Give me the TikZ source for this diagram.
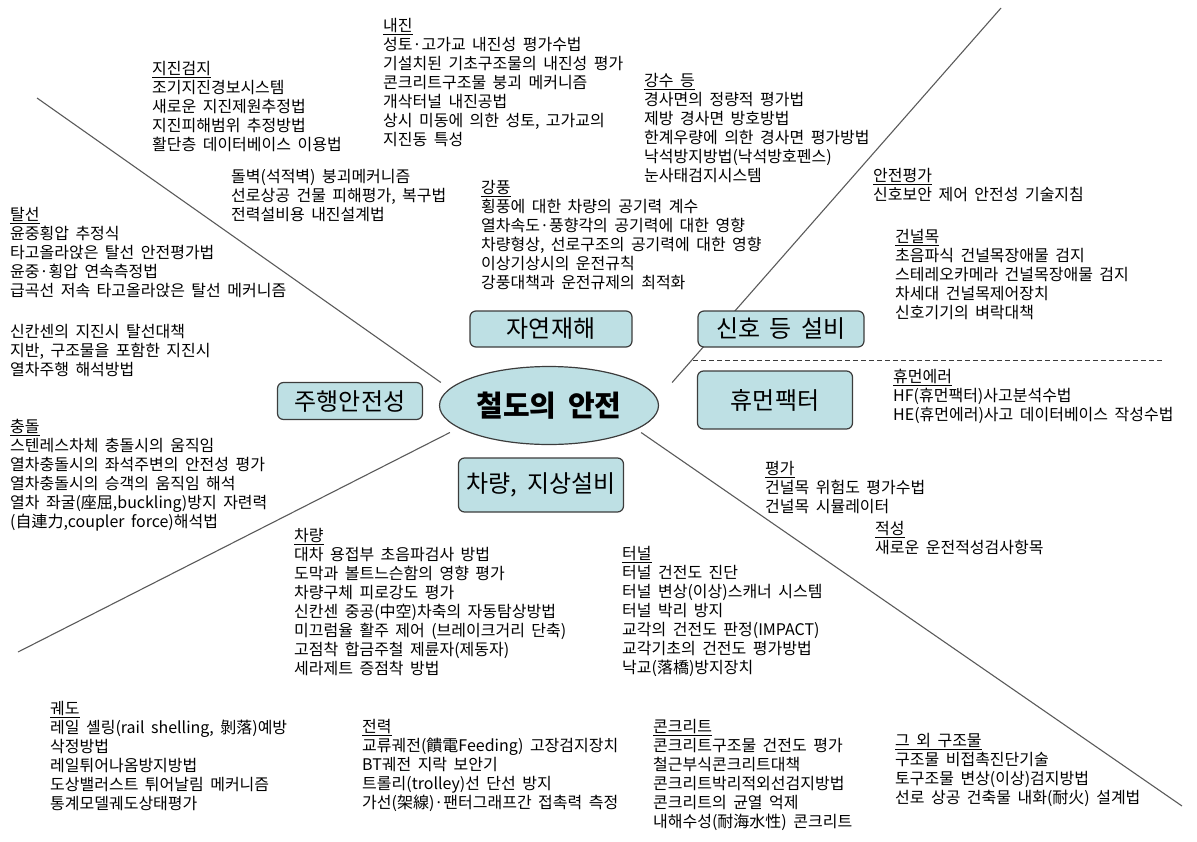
\documentclass[tikz,border=0pt]{standalone}
\usepackage{fontspec}
\setmainfont{Noto Sans CJK KR}[WordSpace=1.8]
\usetikzlibrary{shapes.geometric,backgrounds}
\definecolor{boxfill}{RGB}{190,224,228}
\definecolor{boxdraw}{RGB}{60,60,60}
\definecolor{linegray}{RGB}{90,90,90}
\begin{document}
\begin{tikzpicture}[x=1pt,y=-1pt,
  txt/.style={anchor=north west, inner sep=0pt, align=left,
    font=\fontsize{16}{19}\selectfont, execute at begin node=\strut},
  cat/.style={draw=boxdraw, line width=1.2pt, fill=boxfill, rounded corners=6pt,
    inner sep=0pt, font=\fontsize{24}{28}\selectfont},
  hub/.style={ellipse, draw=boxdraw, line width=1.2pt, fill=boxfill, inner sep=0pt,
    font=\fontsize{29}{32}\selectfont\bfseries},
  spoke/.style={draw=linegray, line width=1.1pt},
  sep/.style={draw=boxdraw, line width=1pt, dash pattern=on 5pt off 3pt},
]
\useasboundingbox (0,0) rectangle (1197,841);

% central hub and categories
\node[hub, minimum width=219pt, minimum height=78pt] (e) at (549,405.5) {철도의 안전};
\node[cat, minimum width=162pt, minimum height=36pt] (nat) at (551,329) {자연재해};
\node[cat, minimum width=166pt, minimum height=36pt] (sig) at (781,329) {신호 등 설비};
\node[cat, minimum width=145pt, minimum height=37pt] (run) at (350,401) {주행안전성};
\node[cat, minimum width=155pt, minimum height=58pt] (hum) at (775,400) {휴먼팩터};
\node[cat, minimum width=165pt, minimum height=54pt] (veh) at (541,485) {차량, 지상설비};

% free ends
\coordinate (c1) at (37,98);
\coordinate (c2) at (1001,8);
\coordinate (c3) at (18,652);
\coordinate (c4) at (1182,806);
\coordinate (d1) at (693,360);
\coordinate (d2) at (1163,360);

\begin{scope}[on background layer]
\draw[spoke] (c1) -- ([shift={(2,-23)}]e.west);
\draw[spoke] (c2) -- ([shift={(13,-23)}]e.east);
\draw[spoke] (c3) -- ([shift={(11,27)}]e.west);
\draw[spoke] (c4) -- ([shift={(-18,27)}]e.east);
\end{scope}
\draw[sep] (d1) -- (d2);

% text blocks
\node[txt] (zj) at (152,61) {\underline{지진검지}\\조기지진경보시스템\\새로운 지진제원추정법\\지진피해범위 추정방법\\활단층 데이터베이스 이용법};
\node[txt] (nj) at (383,18) {\underline{내진}\\성토·고가교 내진성 평가수법\\기설치된 기초구조물의 내진성 평가\\콘크리트구조물 붕괴 메커니즘\\개삭터널 내진공법\\상시 미동에 의한 성토, 고가교의\\지진동 특성};
\node[txt] (db) at (231,169) {돌벽(석적벽) 붕괴메커니즘\\선로상공 건물 피해평가, 복구법\\전력설비용 내진설계법};
\node[txt] (gs) at (644,73) {\underline{강수 등}\\경사면의 정량적 평가법\\제방 경사면 방호방법\\한계우량에 의한 경사면 평가방법\\낙석방지방법(낙석방호펜스)\\눈사태검지시스템};
\node[txt] (gp) at (481,180) {\underline{강풍}\\횡풍에 대한 차량의 공기력 계수\\열차속도·풍향각의 공기력에 대한 영향\\차량형상, 선로구조의 공기력에 대한 영향\\이상기상시의 운전규칙\\강풍대책과 운전규제의 최적화};
\node[txt] (ts) at (10,207) {\underline{탈선}\\윤중횡압 추정식\\타고올라앉은 탈선 안전평가법\\윤중·횡압 연속측정법\\급곡선 저속 타고올라앉은 탈선 메커니즘};
\node[txt] (ts2) at (10,324) {신칸센의 지진시 탈선대책\\지반, 구조물을 포함한 지진시\\열차주행 해석방법};
\node[txt] (cd) at (10,419) {\underline{충돌}\\스텐레스차체 충돌시의 움직임\\열차충돌시의 좌석주변의 안전성 평가\\열차충돌시의 승객의 움직임 해석\\열차 좌굴(座屈,buckling)방지 자련력\\(自連力,coupler force)해석법};
\node[txt] (ap) at (873,168) {\underline{안전평가}\\신호보안 제어 안전성 기술지침};
\node[txt] (gn) at (895,229) {\underline{건널목}\\초음파식 건널목장애물 검지\\스테레오카메라 건널목장애물 검지\\차세대 건널목제어장치\\신호기기의 벼락대책};
\node[txt] (he) at (893,369) {\underline{휴먼에러}\\HF(휴먼팩터)사고분석수법\\HE(휴먼에러)사고 데이터베이스 작성수법};
\node[txt] (pg) at (765,461) {\underline{평가}\\건널목 위험도 평가수법\\건널목 시뮬레이터};
\node[txt] (js) at (875,521) {\underline{적성}\\새로운 운전적성검사항목};
\node[txt] (cr) at (294,528) {\underline{차량}\\대차 용접부 초음파검사 방법\\도막과 볼트느슨함의 영향 평가\\차량구체 피로강도 평가\\신칸센 중공(中空)차축의 자동탐상방법\\미끄럼율 활주 제어 (브레이크거리 단축)\\고점착 합금주철 제륜자(제동자)\\세라제트 증점착 방법};
\node[txt] (tn) at (622,546) {\underline{터널}\\터널 건전도 진단\\터널 변상(이상)스캐너 시스템\\터널 박리 방지\\교각의 건전도 판정(IMPACT)\\교각기초의 건전도 평가방법\\낙교(落橋)방지장치};
\node[txt] (gd) at (50,701) {\underline{궤도}\\레일 셸링(rail shelling, 剝落)예방\\삭정방법\\레일튀어나옴방지방법\\도상밸러스트 튀어날림 메커니즘\\통계모델궤도상태평가};
\node[txt] (jr) at (362,719) {\underline{전력}\\교류궤전(饋電Feeding) 고장검지장치\\BT궤전 지락 보안기\\트롤리(trolley)선 단선 방지\\가선(架線)·팬터그래프간 접촉력 측정};
\node[txt] (cc) at (653,719) {\underline{콘크리트}\\콘크리트구조물 건전도 평가\\철근부식콘크리트대책\\콘크리트박리적외선검지방법\\콘크리트의 균열 억제\\내해수성(耐海水性) 콘크리트};
\node[txt] (gw) at (895,733) {\underline{그 외 구조물}\\구조물 비접촉진단기술\\토구조물 변상(이상)검지방법\\선로 상공 건축물 내화(耐火) 설계법};
\end{tikzpicture}
\end{document}
